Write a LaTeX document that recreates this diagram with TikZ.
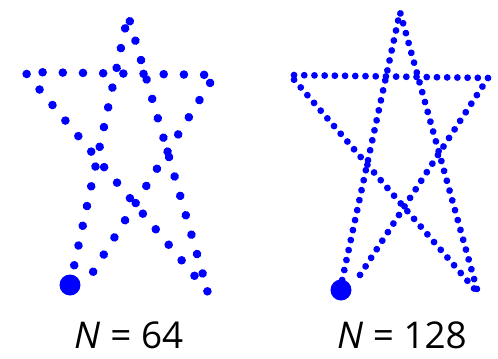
\documentclass[tikz,border=0pt]{standalone}
\usepackage{fontspec}
\setmainfont{Open Sans}
\usetikzlibrary{decorations.markings}
\tikzset{
  samples/.style 2 args={decorate, decoration={markings,
    mark=between positions 0 and 1 step 1/#1 with {\fill[blue] (0,0) circle (#2);}}},
  label/.style={font=\fontsize{21}{25}\selectfont, inner sep=0pt}
}
\begin{document}
\begin{tikzpicture}[x=0.02cm, y=-0.02cm]
  \useasboundingbox (0,0) rectangle (498,359);
  % N = 64
  \path[samples={63}{4.3}] (70,285) -- (128,15) -- (208,292) -- (25,72) -- (215,75) -- (93,272);
  \fill[blue] (70,285) circle (10.5);
  % N = 128
  \path[samples={127}{3.4}] (340,290) -- (400,12) -- (478,293) -- (290,75) -- (488,78) -- (360,275);
  \fill[blue] (341,290) circle (10.5);
  \node[label] (n64) at (129,335) {\textit{N} = 64};
  \node[label] (n128) at (402,335) {\textit{N} = 128};
\end{tikzpicture}
\end{document}
